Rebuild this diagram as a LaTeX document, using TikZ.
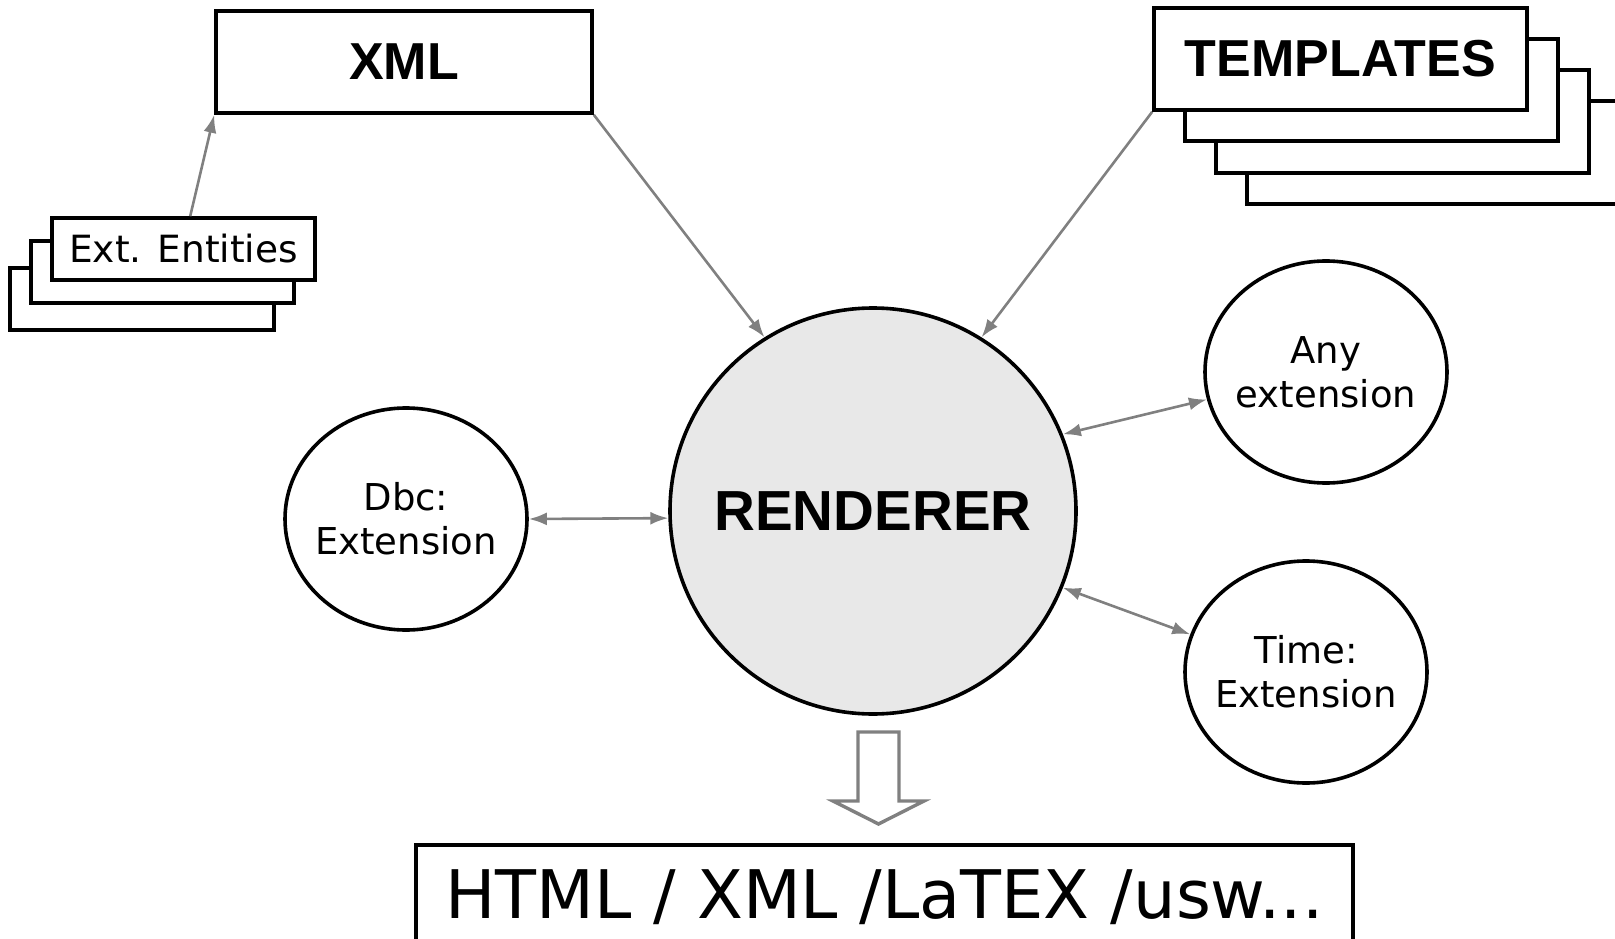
\documentclass[tikz,border=0pt]{standalone}
\usepackage{fontspec}
\setmainfont{DejaVu Sans}
\newfontfamily\hfont{Liberation Sans}
\usetikzlibrary{shapes.geometric,arrows.meta,calc}
\definecolor{linegray}{RGB}{128,128,128}
\definecolor{rendfill}{RGB}{232,232,232}
\begin{document}
\begin{tikzpicture}[x=1pt,y=-1pt,
  box/.style={draw=black,line width=3.6pt,fill=white,rectangle,inner sep=0pt},
  ell/.style={draw=black,line width=3.6pt,fill=white,ellipse,inner xsep=-10pt,inner ysep=0pt,minimum width=242pt,minimum height=222pt,align=center,font=\fontsize{37}{44}\selectfont},
  conn/.style={draw=linegray,line width=2.6pt,-{Latex[length=18pt,width=13pt]}},
  biconn/.style={draw=linegray,line width=2.6pt,{Latex[length=18pt,width=13pt]}-{Latex[length=18pt,width=13pt]}},
  hd/.style={font=\hfont\bfseries\fontsize{#1}{#1}\selectfont}]
\useasboundingbox (0,0) rectangle (1615,939);

% XML
\node[box,minimum width=376pt,minimum height=102pt,hd=52] (xml) at (404,62) {XML};

% Ext. Entities stack
\node[box,minimum width=264pt,minimum height=62pt] (ext3) at (142,299) {};
\node[box,minimum width=263pt,minimum height=62pt] (ext2) at (162.5,272) {};
\node[box,minimum width=263pt,minimum height=62pt,font=\fontsize{37.5}{37.5}\selectfont] (ext1) at (183.5,249) {Ext. Entities};

% TEMPLATES stack
\node[box,minimum width=373pt,minimum height=103pt] (tpl4) at (1433.5,152.5) {};
\node[box,minimum width=373pt,minimum height=103pt] (tpl3) at (1402.5,121.5) {};
\node[box,minimum width=373pt,minimum height=102pt] (tpl2) at (1371.5,90) {};
\node[box,minimum width=373pt,minimum height=102pt,hd=52] (tpl1) at (1340.5,59) {TEMPLATES};

% Renderer
\node[circle,draw=black,line width=3.6pt,fill=rendfill,minimum size=406pt,inner sep=0pt,hd=56.5] (rend) at (873,511) {RENDERER};

% Extensions
\node[ell] (dbc) at (406,519) {Dbc:\\Extension};
\node[ell] (any) at (1326,372) {Any\\extension};
\node[ell] (time) at (1306,672) {Time:\\Extension};

% Output
\node[box,minimum width=937pt,minimum height=105pt,font=\fontsize{67}{67}\selectfont] (out) at (884.5,897.5) {HTML / XML /LaTEX /usw...};

% hollow arrow
\draw[draw=linegray,line width=3.4pt,fill=white,line join=miter]
  (858,732) -- (899,732) -- (899,801) -- (924,801) -- (878.5,824) -- (833,801) -- (858,801) -- cycle;

% connectors
\draw[conn] ($(ext1.north west)+(140,0)$) -- (xml.south west);
\draw[conn] (xml.south east) -- (rend.122);
\draw[conn] (tpl1.south west) -- (rend.58);
\draw[biconn] (dbc.east) -- (rend.182);
\draw[biconn] (rend.22) -- (any.193);
\draw[biconn] (rend.-22) -- (time.162);
\end{tikzpicture}
\end{document}
